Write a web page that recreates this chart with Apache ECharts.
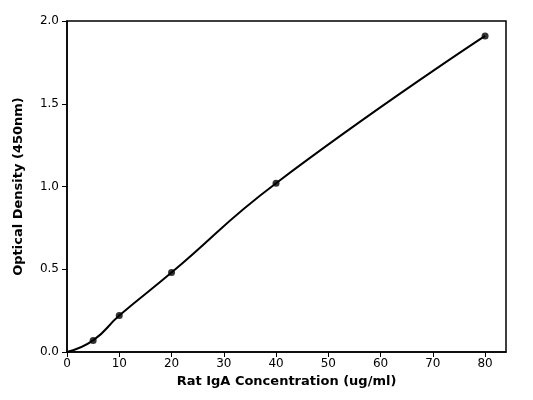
<!DOCTYPE html>
<html><head><meta charset="utf-8">
<script src="https://cdn.jsdelivr.net/npm/echarts@6/dist/echarts.min.js"></script>
</head><body style="margin:0">
<div id="c" style="width:533px;height:400px"></div>
<script>
const conc = [5, 10, 20, 40, 80];
const od = [0.07, 0.22, 0.48, 1.02, 1.91];
const curveX = [0, 5, 10, 20, 40, 80];
const curveY = [0, 0.07, 0.22, 0.48, 1.02, 1.91];
const xTicks = [0, 10, 20, 30, 40, 50, 60, 70, 80];
const yTicks = [0, 0.5, 1.0, 1.5, 2.0];
const chart = echarts.init(document.getElementById('c'));
const font = 'DejaVu Sans';
chart.setOption({
  animation: false,
  grid: {left: 67, right: 27, top: 21, bottom: 48, show: true, borderColor: '#000', borderWidth: 1.5},
  xAxis: {type: 'value', min: 0, max: 84,
    name: 'Rat IgA Concentration (ug/ml)', nameLocation: 'middle', nameGap: 22,
    nameTextStyle: {fontFamily: font, fontWeight: 'bold', fontSize: 13, color: '#000'},
    axisLine: {lineStyle: {color: '#000', width: 1.5}},
    axisTick: {customValues: xTicks, length: 5, lineStyle: {color: '#000'}},
    axisLabel: {customValues: xTicks, fontFamily: font, fontSize: 12, color: '#000', margin: 6},
    splitLine: {show: false}},
  yAxis: {type: 'value', min: 0, max: 2.0,
    name: 'Optical Density (450nm)', nameLocation: 'middle', nameGap: 42,
    nameTextStyle: {fontFamily: font, fontWeight: 'bold', fontSize: 13, color: '#000'},
    axisLine: {show: true, lineStyle: {color: '#000', width: 1.5}},
    axisTick: {show: true, customValues: yTicks, length: 5, lineStyle: {color: '#000'}},
    axisLabel: {customValues: yTicks, fontFamily: font, fontSize: 12, color: '#000',
      formatter: v => v.toFixed(1)},
    splitLine: {show: false}},
  series: [
    {type: 'line', smooth: 0.5, showSymbol: false, data: curveX.map((x, i) => [x, curveY[i]]),
     lineStyle: {color: '#000', width: 2}},
    {type: 'scatter', symbolSize: 7, itemStyle: {color: '#000'}, data: conc.map((x, i) => [x, od[i]])}
  ]
});
</script></body></html>
